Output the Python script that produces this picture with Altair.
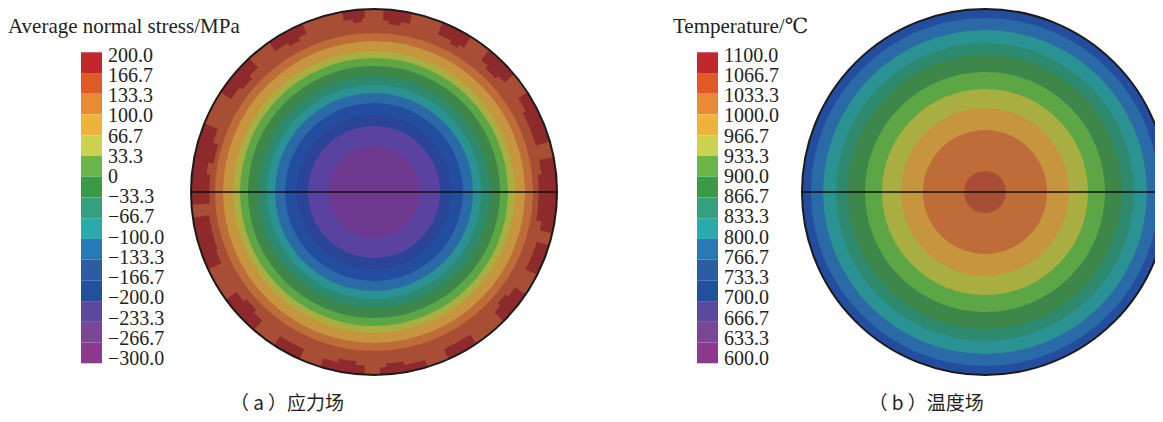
import math
import altair as alt
import pandas as pd

# ---------------- data ----------------
TITLES = ["Average normal stress/MPa", "Temperature/℃"]
CAPTIONS = ["（ a ）应力场", "（ b ）温度场"]

STRESS_LABELS = ["200.0", "166.7", "133.3", "100.0", "66.7", "33.3", "0",
                 "−33.3", "−66.7", "−100.0", "−133.3", "−166.7", "−200.0",
                 "−233.3", "−266.7", "−300.0"]
TEMP_LABELS = ["1100.0", "1066.7", "1033.3", "1000.0", "966.7", "933.3",
               "900.0", "866.7", "833.3", "800.0", "766.7", "733.3",
               "700.0", "666.7", "633.3", "600.0"]
BANDS = list(range(1, 16))  # contour band 1 = top of legend

# rings of each section, outermost first: contour band and outer radius (fraction of section radius)
STRESS_RING_BANDS = [2, 3, 4, 5, 6, 7, 8, 9, 10, 11, 12, 13, 14]
STRESS_RING_RADII = [1.0, 0.869, 0.825, 0.770, 0.732, 0.689, 0.634,
                     0.585, 0.541, 0.486, 0.421, 0.361, 0.251]
TEMP_RING_BANDS = [11, 10, 9, 8, 7, 6, 5, 4, 3, 2]
TEMP_RING_RADII = [1.0, 0.951, 0.885, 0.814, 0.749, 0.656, 0.563,
                   0.459, 0.339, 0.115]

# band-1 (dark red) patches on the rim of the stress section: angle from/to (deg), inner radius fraction
PATCH_FROM = [350, 353, 3, 5, 22, 27, 39, 42, 57, 62, 79, 84, 95, 107, 124, 128,
              146, 163, 170, 183, 186, 204, 221, 225, 245, 250, 266, 272, 280,
              303, 308, 325, 330]
PATCH_TO = [357, 356, 12, 9, 32, 30, 50, 47, 63, 74, 89, 100, 103, 117, 135, 132,
            156, 178, 176, 197, 192, 213, 234, 230, 256, 262, 276, 292, 287,
            317, 313, 337, 334]
PATCH_INNER = [0.95, 0.93, 0.94, 0.92, 0.93, 0.91, 0.93, 0.91, 0.94, 0.92, 0.92,
               0.90, 0.93, 0.93, 0.93, 0.91, 0.94, 0.96, 0.94, 0.95, 0.93, 0.94,
               0.93, 0.91, 0.92, 0.91, 0.90, 0.92, 0.89, 0.93, 0.91, 0.94, 0.92]

# ---------------- styles ----------------
LEGEND_COLORS = ["#C1272D", "#E05A28", "#E98A35", "#EDB43B", "#CAD250",
                 "#6DB44A", "#3B9A48", "#35A07E", "#2BAAAA", "#2878B6",
                 "#2E5CA2", "#22509C", "#5B4A9C", "#7A4796", "#8E3A8C"]
SECTION_COLORS = ["#8E2A2C", "#A84E34", "#BE6C38", "#C6953E", "#A8AE40",
                  "#5DA645", "#3D874A", "#2E8A6E", "#2A9292", "#2A6AA6",
                  "#234EA0", "#2A4598", "#5A42A0", "#6E3A90", "#7E3A8A"]

W, H = 1147, 406
R_PX = 183
SERIF = "Liberation Serif"
MIXED = "Liberation Serif, DejaVu Serif, Noto Sans CJK SC"
CJK = "Noto Sans CJK SC"
TXT = "#231F20"

radius_scale = alt.Scale(type="linear", domain=[0, 1], range=[0, R_PX], zero=True)
theta_scale = alt.Scale(domain=[0, 360], range=[0, 2 * math.pi])
bar_scale = alt.Scale(domain=[0, 15], range=[44.3, 355.3])
label_scale = alt.Scale(domain=[0, 15], range=[53.7, 357.0])
legend_color = alt.Color("band:O", scale=alt.Scale(domain=BANDS, range=LEGEND_COLORS), legend=None)
section_fill = alt.Fill("band:O", scale=alt.Scale(domain=BANDS, range=SECTION_COLORS), legend=None)

legend_df = pd.DataFrame({"band": BANDS, "i0": [b - 1 for b in BANDS], "i1": BANDS})


def panel(title, title_x, labels, ring_bands, ring_radii, x0, cx, cy, caption, cap_x, patches=None):
    layers = []
    # title
    layers.append(
        alt.Chart(pd.DataFrame({"t": [title]})).mark_text(
            font=MIXED, fontSize=21, align="left", baseline="alphabetic", color=TXT
        ).encode(text="t:N", x=alt.value(title_x), y=alt.value(24.5))
    )
    # legend colour bar
    layers.append(
        alt.Chart(legend_df).mark_rect().encode(
            x=alt.value(x0 + 73), x2=alt.value(x0 + 94),
            y=alt.Y("i0:Q", scale=bar_scale, axis=None), y2="i1:Q",
            color=legend_color,
        )
    )
    # legend labels
    lab_df = pd.DataFrame({"lab": labels, "i": list(range(len(labels)))})
    layers.append(
        alt.Chart(lab_df).mark_text(
            font=SERIF, fontSize=20, align="left", baseline="alphabetic", color=TXT
        ).encode(text="lab:N", x=alt.value(x0 + 100),
                 y=alt.Y("i:Q", scale=label_scale, axis=None))
    )
    # section rings (filled disks, largest first)
    ring_df = pd.DataFrame({"band": ring_bands, "r": ring_radii})
    layers.append(
        alt.Chart(ring_df).mark_arc(theta=0, theta2=2 * math.pi, radius2=0).encode(
            x=alt.value(cx), y=alt.value(cy),
            radius=alt.Radius("r:Q", scale=radius_scale, stack=None),
            fill=section_fill,
        )
    )
    if patches is not None:
        layers.append(
            alt.Chart(patches).mark_arc().encode(
                x=alt.value(cx), y=alt.value(cy),
                theta=alt.Theta("a0:Q", scale=theta_scale, stack=None), theta2="a1:Q",
                radius=alt.Radius("ro:Q", scale=radius_scale, stack=None), radius2="ri:Q",
                fill=section_fill,
            )
        )
    # outline
    layers.append(
        alt.Chart(pd.DataFrame({"r": [1.0]})).mark_arc(
            theta=0, theta2=2 * math.pi, fillOpacity=0, stroke="#1A1A1A", strokeWidth=2
        ).encode(x=alt.value(cx), y=alt.value(cy),
                 radius=alt.Radius("r:Q", scale=radius_scale, stack=None))
    )
    # diameter line
    layers.append(
        alt.Chart(pd.DataFrame({"r": [1.0]})).mark_rule(color="#111111", strokeWidth=1.6).encode(
            x=alt.value(cx - R_PX), x2=alt.value(cx + R_PX), y=alt.value(cy)
        )
    )
    # caption
    layers.append(
        alt.Chart(pd.DataFrame({"c": [caption]})).mark_text(
            font=CJK, fontSize=19, align="center", baseline="middle", color=TXT
        ).encode(text="c:N", x=alt.value(cap_x), y=alt.value(396))
    )
    return layers


patch_df = pd.DataFrame({"band": [1] * len(PATCH_FROM), "a0": PATCH_FROM, "a1": PATCH_TO,
                         "ro": [1.0] * len(PATCH_FROM), "ri": PATCH_INNER})

layers = []
layers += panel(TITLES[0], 0, STRESS_LABELS, STRESS_RING_BANDS, STRESS_RING_RADII,
                0, 366, 184, CAPTIONS[0], 279, patches=patch_df)
layers += panel(TITLES[1], 665, TEMP_LABELS, TEMP_RING_BANDS, TEMP_RING_RADII,
                616, 977, 184, CAPTIONS[1], 918)

chart = alt.layer(*layers).resolve_scale(y="independent").properties(
    width=W, height=H, padding=0, autosize=alt.AutoSizeParams(type="none")
).configure_view(stroke=None)

chart.save("out.html", embed_options={"renderer": "svg", "actions": False})
